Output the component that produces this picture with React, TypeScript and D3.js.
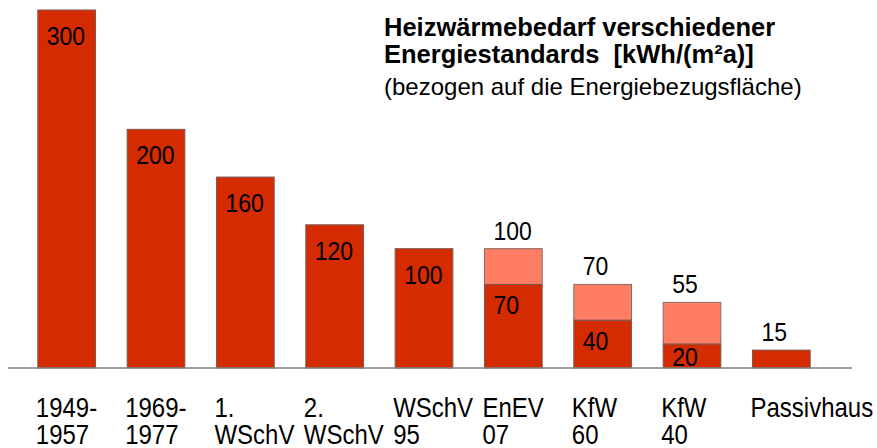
import React, { useEffect, useRef } from "react";
import * as d3 from "d3";

// category labels (two lines each)
const categories = ["1949-1957", "1969-1977", "1. WSchV", "2. WSchV", "WSchV 95", "EnEV 07", "KfW 60", "KfW 40", "Passivhaus"];
const labelLines = [
  ["1949-", "1957"],
  ["1969-", "1977"],
  ["1.", "WSchV"],
  ["2.", "WSchV"],
  ["WSchV", "95"],
  ["EnEV", "07"],
  ["KfW", "60"],
  ["KfW", "40"],
  ["Passivhaus", ""],
];
// dark red part of each bar
const baseValues = [300, 200, 160, 120, 100, 70, 40, 20, 15];
// light part on top (up to the total)
const extraValues = [0, 0, 0, 0, 0, 30, 30, 35, 0];

const titleLines = ["Heizwärmebedarf verschiedener", "Energiestandards  [kWh/(m²a)]"];
const subtitle = "(bezogen auf die Energiebezugsfläche)";

const App = () => {
  const ref = useRef<SVGSVGElement>(null);

  useEffect(() => {
    const svg = d3.select(ref.current);
    svg.selectAll("*").remove();

    const font = "'Liberation Sans', Arial, sans-serif";
    const baseline = 368;

    const x = d3.scaleBand().domain(categories).range([22, 826]).paddingInner(0.354).paddingOuter(0.177);
    const y = d3.scaleLinear().domain([0, 300]).range([baseline, 10]);

    const data = categories.map((c, i) => ({
      cat: c,
      base: baseValues[i],
      extra: extraValues[i],
      total: baseValues[i] + extraValues[i],
      lines: labelLines[i],
    }));

    // light top part
    svg
      .append("g")
      .selectAll("rect")
      .data(data.filter((d) => d.extra > 0))
      .join("rect")
      .attr("x", (d) => x(d.cat)!)
      .attr("y", (d) => y(d.total))
      .attr("width", x.bandwidth())
      .attr("height", (d) => y(d.base) - y(d.total))
      .style("fill", "#ff7d63")
      .style("stroke", "#8a6a66")
      .style("stroke-width", 1);

    // base part
    svg
      .append("g")
      .selectAll("rect")
      .data(data)
      .join("rect")
      .attr("x", (d) => x(d.cat)!)
      .attr("y", (d) => y(d.base))
      .attr("width", x.bandwidth())
      .attr("height", (d) => baseline - y(d.base))
      .style("fill", "#d42b00")
      .style("stroke", "#7a5a55")
      .style("stroke-width", 1);

    // axis line
    svg
      .append("line")
      .attr("x1", 8)
      .attr("x2", 852)
      .attr("y1", baseline)
      .attr("y2", baseline)
      .style("stroke", "#808080")
      .style("stroke-width", 1.5);

    // value labels inside the dark part
    svg
      .append("g")
      .selectAll("text")
      .data(data.filter((d) => d.base >= 20 && !(d.extra === 0 && d.base < 60)))
      .join("text")
      .attr("transform", (d) => {
        const off = d.extra > 0 ? 30 : 35;
        const ty = Math.min(y(d.base) + off, baseline - 2);
        return `translate(${x(d.cat)! + 9},${ty}) scale(1,1.1)`;
      })
      .style("font-family", font)
      .style("font-size", "23px")
      .style("fill", "#000")
      .text((d) => d.base);

    // total labels above stacked / small bars
    svg
      .append("g")
      .selectAll("text")
      .data(data.filter((d) => d.extra > 0 || d.base < 60))
      .join("text")
      .attr("transform", (d) => `translate(${x(d.cat)! + 9},${y(d.total) - 9}) scale(1,1.1)`)
      .style("font-family", font)
      .style("font-size", "23px")
      .style("fill", "#000")
      .text((d) => d.total);

    // category labels
    const cat = svg
      .append("g")
      .selectAll("g")
      .data(data)
      .join("g")
      .attr("transform", (d) => `translate(${x(d.cat)! - 2},0)`);
    [417, 444].forEach((ly, li) => {
      cat
        .append("text")
        .attr("transform", `translate(0,${ly}) scale(1,1.12)`)
        .style("font-family", font)
        .style("font-size", "24px")
        .style("fill", "#000")
        .text((d) => d.lines[li]);
    });

    // title
    titleLines.forEach((t, i) => {
      svg
        .append("text")
        .attr("x", 384)
        .attr("y", 36 + i * 27)
        .style("font-family", font)
        .style("font-size", "25.5px")
        .style("font-weight", "bold")
        .style("white-space", "pre")
        .style("fill", "#000")
        .text(t);
    });
    svg
      .append("text")
      .attr("x", 384)
      .attr("y", 95)
      .style("font-family", font)
      .style("font-size", "24px")
      .style("fill", "#000")
      .text(subtitle);
  }, []);

  return (
    <svg
      ref={ref}
      width={877}
      height={448}
      style={{ position: "absolute", left: 0, top: 0, background: "#fff" }}
    />
  );
};

export default App;
